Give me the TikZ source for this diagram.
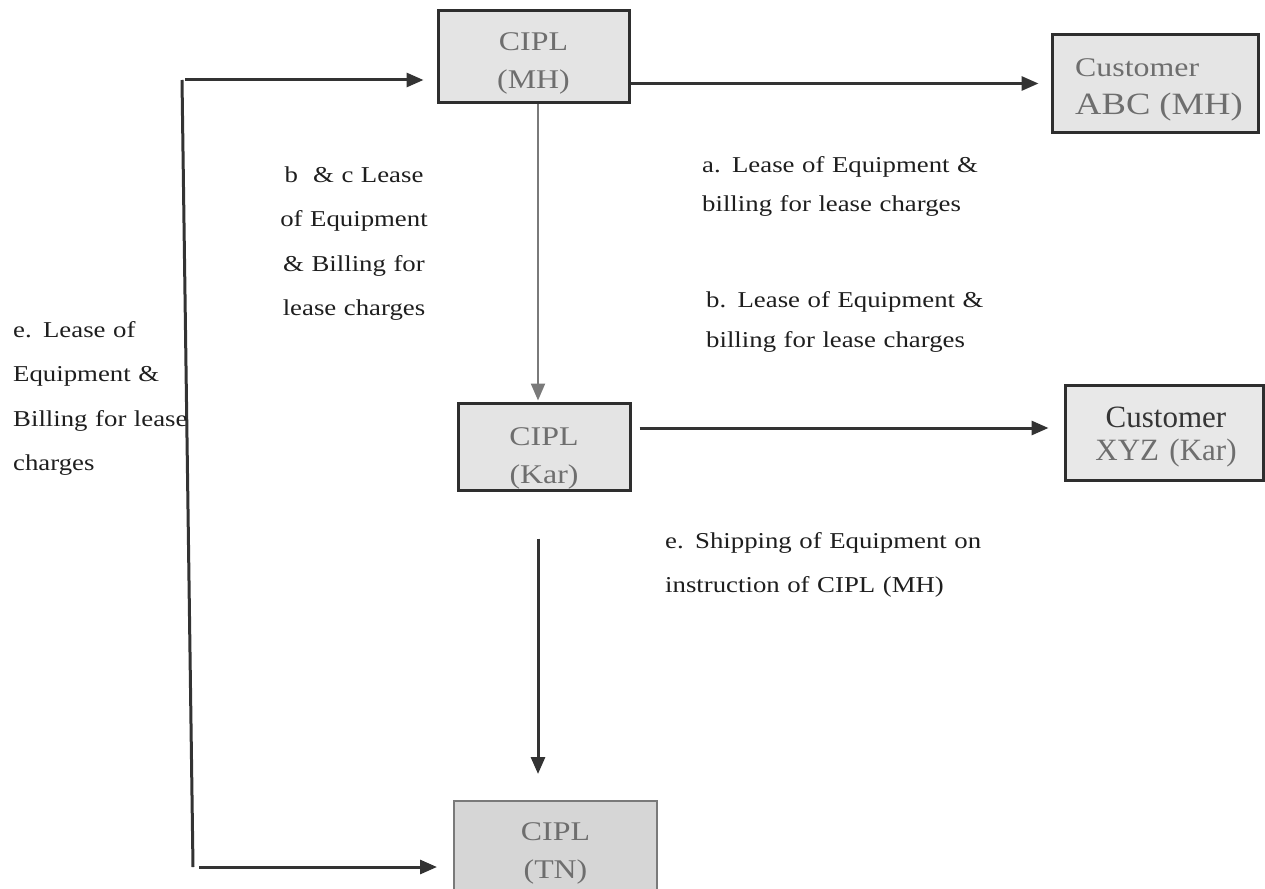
\documentclass[tikz,border=0pt]{standalone}
\usepackage{fontspec}
\setmainfont{Liberation Serif}
\newfontfamily\labf{Liberation Serif}[FakeStretch=1.18]
\newfontfamily\plainf{Liberation Serif}
\usetikzlibrary{arrows.meta,calc}
\definecolor{boxfill}{HTML}{E4E4E4}
\definecolor{tnfill}{HTML}{D6D6D6}
\definecolor{boxline}{HTML}{2E2E2E}
\definecolor{arrline}{HTML}{333333}
\definecolor{greyarr}{HTML}{7A7A7A}
\definecolor{boxtxt}{HTML}{6E6E6E}
\definecolor{labtxt}{HTML}{1E1E1E}
\tikzset{
  box/.style={draw=boxline, line width=3pt, fill=boxfill, inner sep=0pt},
  boxtext/.style={text=boxtxt, inner sep=0pt, align=center, text width=220pt,
    font=\labf\fontsize{27}{38}\selectfont},
  lab/.style={text=labtxt, inner sep=0pt, align=left, anchor=base west,
    font=\labf\fontsize{22.7}{44.5}\selectfont},
  arr/.style={draw=arrline, line width=3pt, -{Triangle[length=17pt,width=14pt]}},
}
\begin{document}
\begin{tikzpicture}[x=1pt,y=-1pt]
\useasboundingbox (0,0) rectangle (1265,888);
% boxes
\node[box, minimum width=191pt, minimum height=92pt] (mh) at (533.5,57) {};
\node[box, minimum width=206pt, minimum height=97pt, fill=boxfill!95!white] (abc) at (1155,83.5) {};
\node[box, minimum width=172pt, minimum height=87pt] (kar) at (544,446.5) {};
\node[box, minimum width=198pt, minimum height=95pt, fill=boxfill!85!white] (xyz) at (1164,432.5) {};
\node[box, minimum width=203pt, minimum height=110pt, fill=tnfill, draw=greyarr, line width=2pt] (tn) at (555.5,856) {};
% box texts
\node[boxtext, anchor=base] (mht) at (533.5,51) {CIPL\\(MH)};
\node[boxtext, anchor=base] (kart) at (544,445) {CIPL\\\fontsize{27}{34}\selectfont(Kar)};
\node[boxtext, anchor=base] (tnt) at (555.5,840) {CIPL\\\fontsize{27}{35}\selectfont(TN)};
\node[boxtext, anchor=base west, align=left, text width=200pt] (abct) at (1075,77)
  {\fontsize{27}{36}\selectfont Customer\\\fontsize{31}{36}\selectfont ABC (MH)};
\node[boxtext, anchor=base, font=\plainf\fontsize{31}{33}\selectfont] (xyzt) at (1166,427)
  {\textcolor{labtxt!90!white}{Customer}\\XYZ (Kar)};
% connectors
\coordinate (c1) at (182,80);
\coordinate (c2) at (193,867);
\draw[draw=arrline, line width=3pt] (c1) -- (c2);
\draw[arr, shorten <=3pt, shorten >=13pt] (c1) -- (c1 -| mh.west);
\draw[arr, shorten <=6pt, shorten >=16pt] (c2) -- (c2 -| tn.west);
\draw[arr, shorten >=12pt] (mh.east |- abc.west) -- (abc.west);
\draw[arr, draw=greyarr, line width=2.2pt, shorten >=1pt]
  ([xshift=4.5pt]mh.south) -- ([xshift=4.5pt]mh.south |- kar.north);
\draw[arr, shorten <=8pt, shorten >=15pt]
  ([yshift=18.5pt]kar.east) coordinate (k1) -- (k1 -| xyz.west);
\draw[arr, shorten <=47pt, shorten >=26pt]
  ([xshift=-6pt]kar.south) -- ([xshift=-6pt]kar.south |- tn.north);
% labels
\node[lab, text width=300pt, font=\labf\fontsize{22.7}{39}\selectfont] (la) at (702,172)
  {a. Lease of Equipment \&\\billing for lease charges};
\node[lab, text width=300pt, font=\labf\fontsize{22.7}{40}\selectfont] (lb) at (706,307)
  {b. Lease of Equipment \&\\billing for lease charges};
\node[lab, anchor=base, align=center, text width=190pt] (lbc) at (354,182)
  {b\ \ \& c Lease\\of Equipment\\\& Billing for\\lease charges};
\node[lab, text width=200pt] (le) at (13,337)
  {e. Lease of\\Equipment \&\\Billing for lease\\charges};
\node[lab, text width=340pt, font=\labf\fontsize{22.7}{44}\selectfont] (ls) at (665,548)
  {e. Shipping of Equipment on\\instruction of CIPL (MH)};
\end{tikzpicture}
\end{document}
